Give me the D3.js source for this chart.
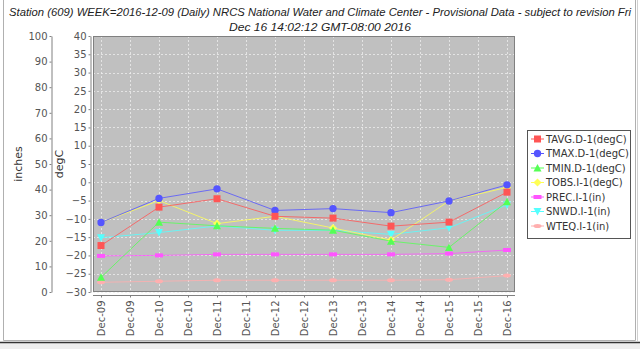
<!DOCTYPE html>
<html><head><meta charset="utf-8">
<script src="https://cdn.jsdelivr.net/npm/d3@7"></script>
<style>
body{margin:0;background:#fff;}
svg{display:block;font-family:"DejaVu Sans",sans-serif;}
</style></head><body>
<svg id="c" width="640" height="349"></svg>
<script>
const days = ["2016-12-09","2016-12-10","2016-12-11","2016-12-12","2016-12-13","2016-12-14","2016-12-15","2016-12-16"];
const tavg = [-17.3,-6.8,-4.5,-9.3,-9.8,-12.0,-10.9,-2.7];
const tmax = [-11.0,-4.4,-1.8,-7.7,-7.2,-8.3,-5.1,-0.7];
const tmin = [-26.0,-10.9,-11.9,-12.6,-13.1,-16.1,-17.8,-5.3];
const tobs = [-11.0,-5.0,-11.3,-9.3,-12.5,-15.8,-5.1,-1.4];
const prec = [14.1,14.3,14.7,14.7,14.7,14.7,15.0,16.4];
const snwd = [21.2,23.2,25.8,24.1,24.1,22.5,25.1,34.0];
const wteq = [3.8,4.2,4.6,4.6,4.6,4.6,4.8,6.4];
const degTicks = [40,35,30,25,20,15,10,5,0,-5,-10,-15,-20,-25,-30];
const inchTicks = [100,90,80,70,60,50,40,30,20,10,0];
const titleLines = ["Station (609) WEEK=2016-12-09 (Daily) NRCS National Water and Climate Center - Provisional Data - subject to revision Fri",
                    "Dec 16 14:02:12 GMT-08:00 2016"];

const parse = d3.utcParse("%Y-%m-%d");
const dates = days.map(parse);
const series = [
  {name:"TAVG.D-1(degC)", vals:tavg, axis:"deg", color:"#ff5555", shape:"square"},
  {name:"TMAX.D-1(degC)", vals:tmax, axis:"deg", color:"#5555ff", shape:"circle"},
  {name:"TMIN.D-1(degC)", vals:tmin, axis:"deg", color:"#55ff55", shape:"triUp"},
  {name:"TOBS.I-1(degC)", vals:tobs, axis:"deg", color:"#ffff55", shape:"diamond"},
  {name:"PREC.I-1(in)", vals:prec, axis:"in", color:"#ff55ff", shape:"hrect"},
  {name:"SNWD.I-1(in)", vals:snwd, axis:"in", color:"#55ffff", shape:"triDown"},
  {name:"WTEQ.I-1(in)", vals:wteq, axis:"in", color:"#ffafaf", shape:"ellipse"}
];

const svg = d3.select("#c");
svg.append("rect").attr("x",0).attr("y",0).attr("width",640).attr("height",349).attr("fill","#fff");
svg.append("rect").attr("x",0).attr("y",343).attr("width",640).attr("height",6).attr("fill","#eeeeee");
svg.append("line").attr("x1",0).attr("x2",640).attr("y1",342.5).attr("y2",342.5).attr("stroke","#333").attr("stroke-width",1.5);
svg.append("path").attr("d","M3.5,0V340.5H635.5V0").attr("fill","none").attr("stroke","#b0b0b0");
svg.append("line").attr("x1",637.5).attr("x2",637.5).attr("y1",0).attr("y2",341).attr("stroke","#d0d0d0");

titleLines.forEach((t,i)=>{
  svg.append("text").attr("x",320).attr("y",16+i*14.5).attr("text-anchor","middle")
    .attr("font-size",11).attr("font-style","italic").attr("fill","#222")
    .attr("font-family","'Liberation Sans',sans-serif")
    .attr("textLength", i===0?622:182).attr("lengthAdjust","spacingAndGlyphs").text(t);
});

const pl = 93, pr = 515, pt = 36, pb = 292;
const x = d3.scaleUtc().domain([dates[0], dates[dates.length-1]]).range([101, 507]);
const yDeg = d3.scaleLinear().domain([-30,40]).range([pb,pt]);
const yIn = d3.scaleLinear().domain([0,100]).range([pb,pt]);

svg.append("rect").attr("x",pl).attr("y",pt).attr("width",pr-pl).attr("height",pb-pt).attr("fill","#c0c0c0");
const xTicks = d3.utcHour.every(12).range(dates[0], d3.utcHour.offset(dates[dates.length-1],1));
const grid = svg.append("g").attr("stroke","#eeeeee").attr("stroke-dasharray","2,2").attr("stroke-width",0.8);
xTicks.forEach(t=>grid.append("line").attr("x1",Math.round(x(t))+0.5).attr("x2",Math.round(x(t))+0.5).attr("y1",pt).attr("y2",pb));
degTicks.forEach(t=>grid.append("line").attr("x1",pl).attr("x2",pr).attr("y1",Math.round(yDeg(t))+0.5).attr("y2",Math.round(yDeg(t))+0.5));
svg.append("rect").attr("x",pl+0.5).attr("y",pt+0.5).attr("width",pr-pl-1).attr("height",pb-pt-1).attr("fill","none").attr("stroke","#808080");

function styleAxis(g){
  g.selectAll(".domain").attr("stroke","#808080");
  g.selectAll(".tick line").attr("stroke","#808080");
  g.selectAll("text").attr("fill","#555").attr("font-size",10).attr("font-family","DejaVu Sans");
}
const gDeg = svg.append("g").attr("transform","translate(90.5,0)")
  .call(d3.axisLeft(yDeg).tickValues(degTicks).tickSize(2).tickSizeOuter(0).tickPadding(2).tickFormat(d3.format("d")));
styleAxis(gDeg);
const gIn = svg.append("g").attr("transform","translate(51.5,0)")
  .call(d3.axisLeft(yIn).tickValues(inchTicks).tickSize(2).tickSizeOuter(0).tickPadding(2).tickFormat(d3.format("d")));
styleAxis(gIn);
const gX = svg.append("g").attr("transform","translate(0,295.5)")
  .call(d3.axisBottom(x).tickValues(xTicks).tickSize(2).tickSizeOuter(0).tickFormat(d3.utcFormat("%b-%d")));
gX.select(".domain").attr("d",`M${pl},0H${pr}`);
styleAxis(gX);
gX.selectAll(".tick text").attr("transform","rotate(-90)").attr("text-anchor","end")
  .attr("x",-5).attr("y",0).attr("dy","0.35em");

svg.append("text").attr("transform","translate(22,164) rotate(-90)").attr("text-anchor","middle")
  .attr("font-size",11).attr("fill","#333").text("inches");
svg.append("text").attr("transform","translate(63,164) rotate(-90)").attr("text-anchor","middle")
  .attr("font-size",11).attr("fill","#333").text("degC");

function shapePath(s){
  switch(s){
    case "square": return "M-3.5,-3.5h7v7h-7z";
    case "circle": return d3.arc()({innerRadius:0,outerRadius:3.7,startAngle:0,endAngle:2*Math.PI});
    case "triUp": return "M0,-4L4,3.5H-4z";
    case "diamond": return "M0,-4L4,0L0,4L-4,0z";
    case "hrect": return "M-4,-2h8v4h-8z";
    case "triDown": return "M-4,-3.5H4L0,4z";
    case "ellipse": return "M-4,0a4,2 0 1,0 8,0a4,2 0 1,0 -8,0z";
  }
}

const line = d3.line();
[...series].reverse().forEach(s=>{
  const y = s.axis==="deg"?yDeg:yIn;
  const pts = s.vals.map((v,i)=>[x(dates[i]), y(v)]);
  const g = svg.append("g");
  g.append("path").attr("d",line(pts)).attr("fill","none").attr("stroke",s.color).attr("stroke-width",1).attr("stroke-opacity",0.8);
  g.selectAll("path.m").data(pts).join("path").attr("class","m")
    .attr("transform",d=>`translate(${d[0]},${d[1]})`).attr("d",shapePath(s.shape)).attr("fill",s.color);
});

const lg = svg.append("g");
lg.append("rect").attr("x",527.5).attr("y",130.5).attr("width",103).attr("height",108).attr("fill","#fff").attr("stroke","#555");
series.forEach((s,i)=>{
  const yy = 139 + i*14.5;
  lg.append("line").attr("x1",531).attr("x2",544).attr("y1",yy).attr("y2",yy).attr("stroke",s.color);
  lg.append("path").attr("transform",`translate(537.5,${yy})`).attr("d",shapePath(s.shape)).attr("fill",s.color);
  lg.append("text").attr("x",546).attr("y",yy).attr("dy","0.35em").attr("font-size",10).attr("fill","#333").text(s.name);
});
</script></body></html>
